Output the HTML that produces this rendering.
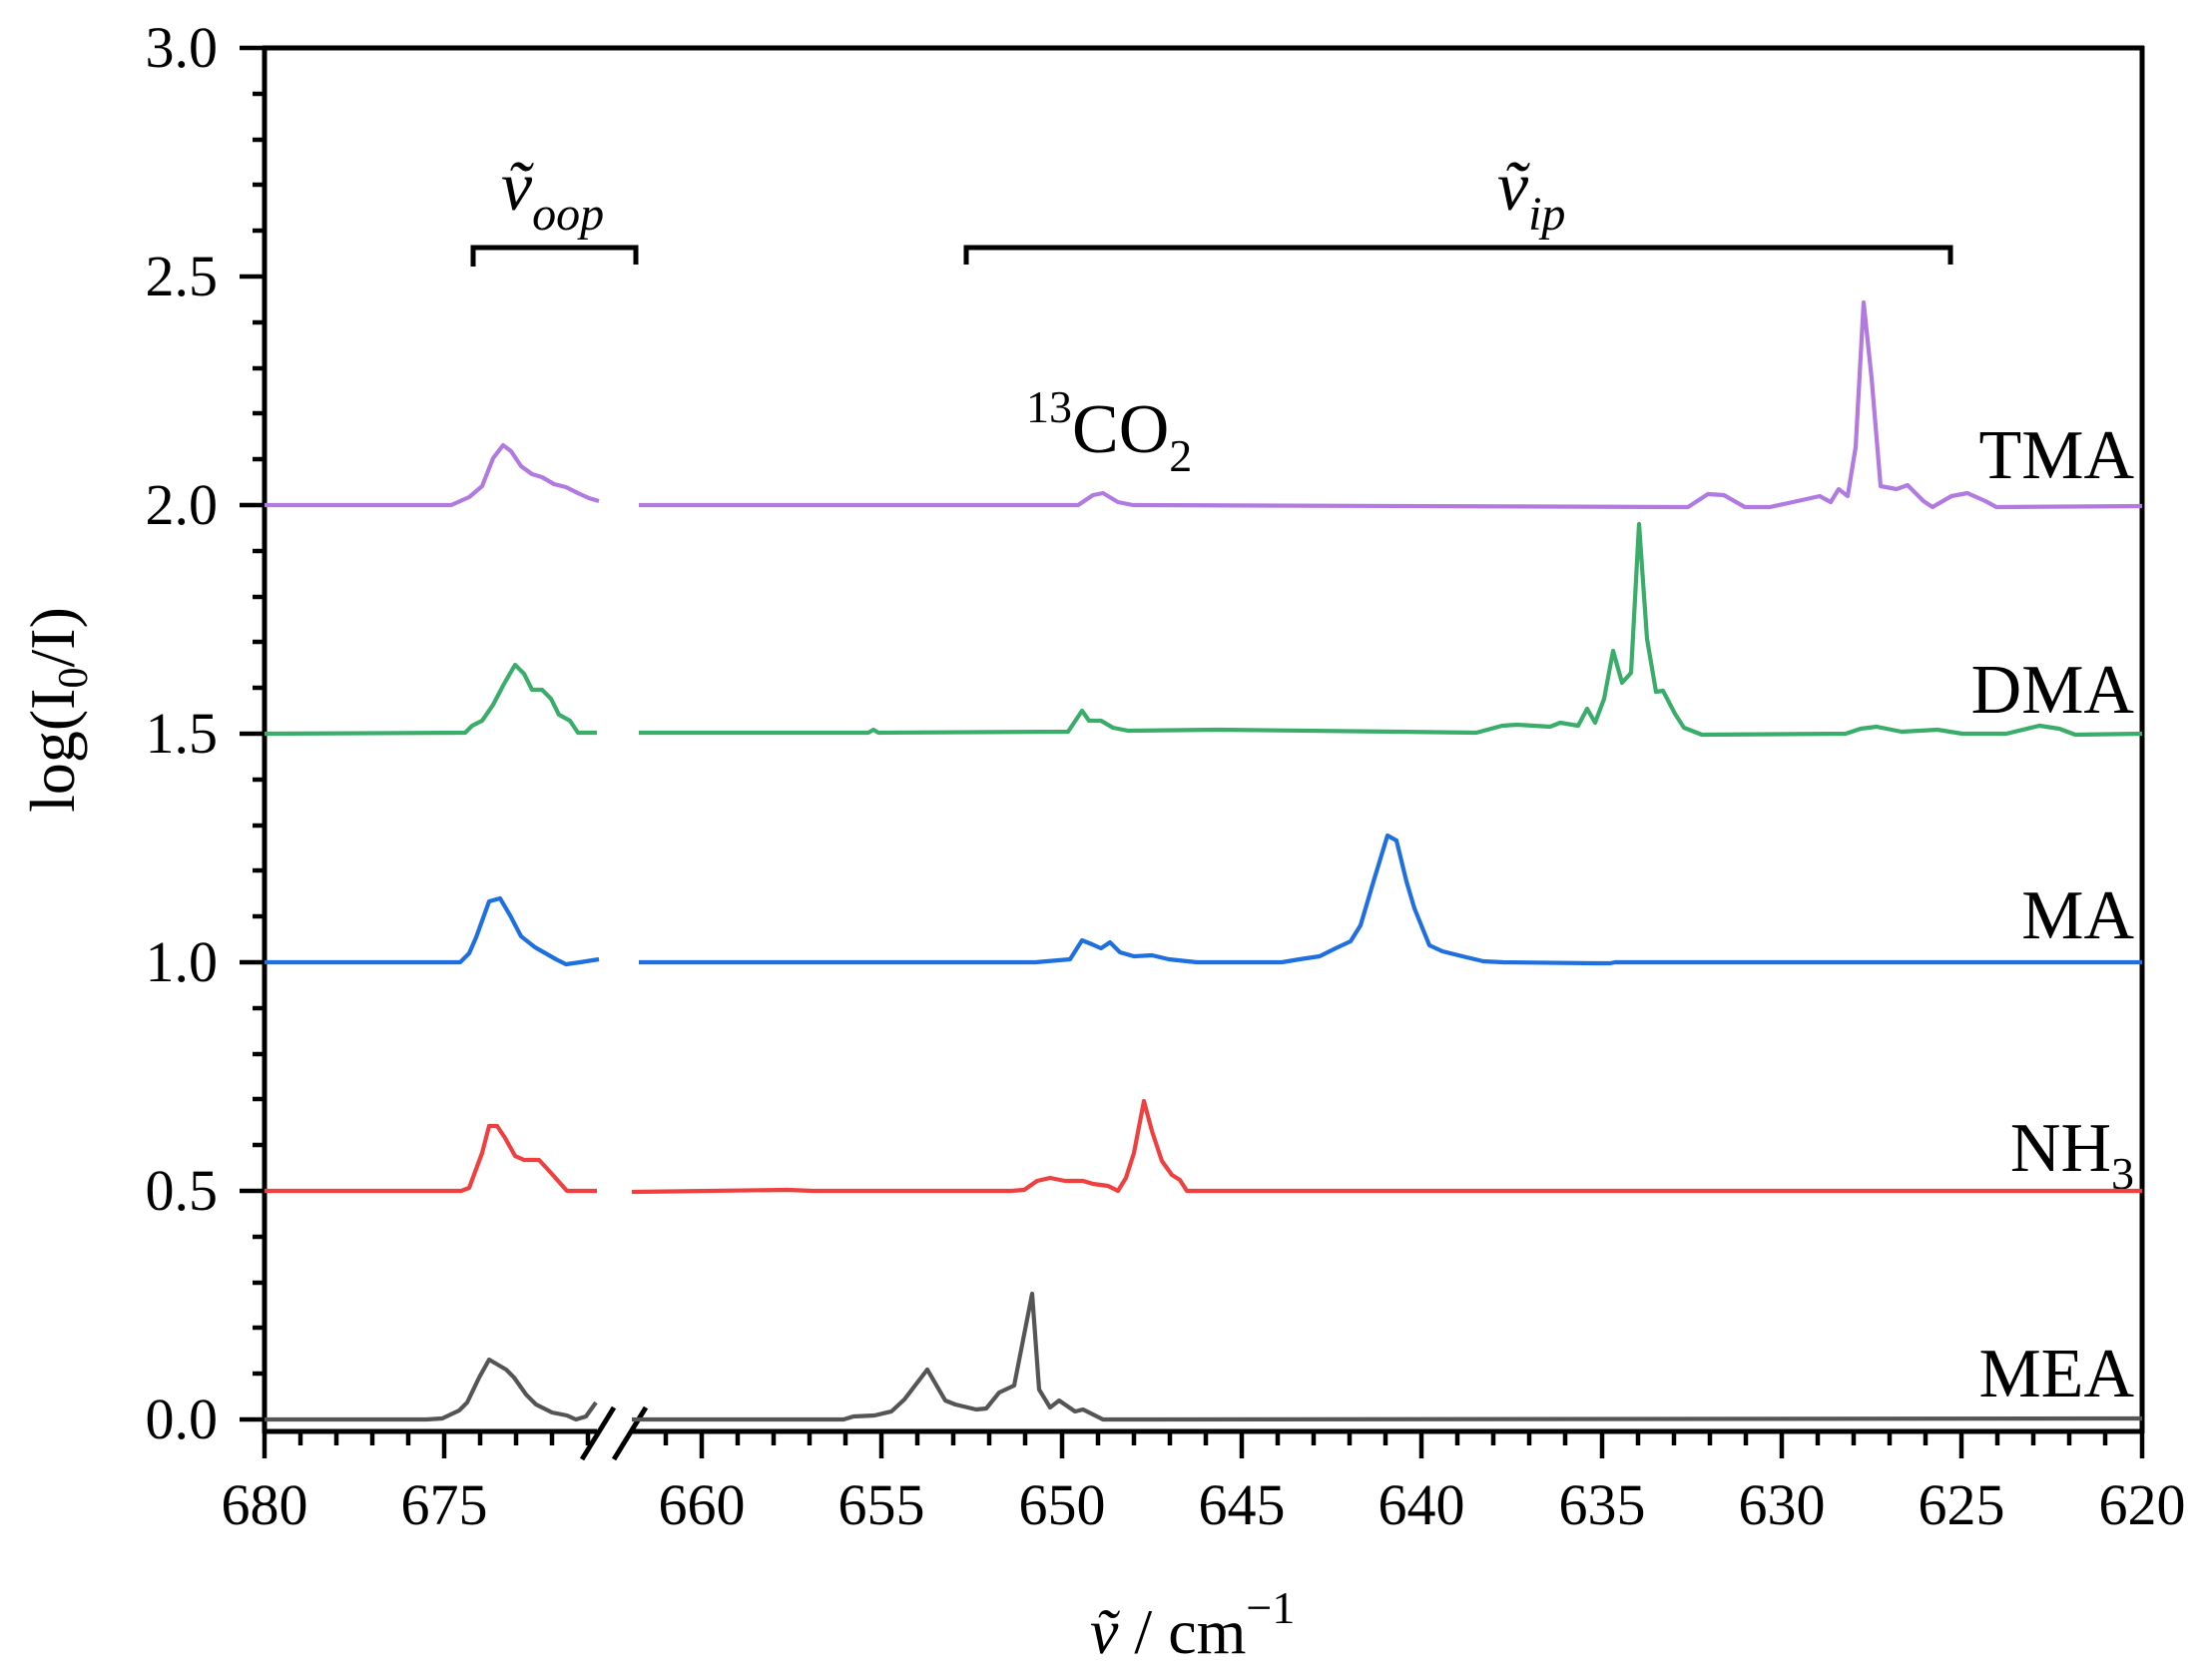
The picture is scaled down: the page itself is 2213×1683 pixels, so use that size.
<!DOCTYPE html>
<html><head><meta charset="utf-8"><style>html,body{margin:0;padding:0;background:#fff}svg{display:block}</style></head>
<body>
<svg width="2213" height="1683" viewBox="0 0 2213 1683" xmlns="http://www.w3.org/2000/svg" font-family="'Liberation Serif', serif">
<rect width="2213" height="1683" fill="#fff"/>
<g stroke="#000" stroke-width="5" fill="none">
<line x1="265" y1="46" x2="265" y2="1436"/>
<line x1="263" y1="48" x2="2148" y2="48"/>
<line x1="2146" y1="46" x2="2146" y2="1436"/>
<line x1="263" y1="1434" x2="598" y2="1434"/>
<line x1="633" y1="1434" x2="2148" y2="1434"/>
<line x1="583" y1="1462" x2="615" y2="1410"/>
<line x1="615" y1="1462" x2="647" y2="1410"/>
</g>
<g stroke="#000" stroke-width="4.5">
<line x1="265" y1="1434" x2="265" y2="1461"/><line x1="301" y1="1434" x2="301" y2="1448"/><line x1="337" y1="1434" x2="337" y2="1448"/><line x1="373" y1="1434" x2="373" y2="1448"/><line x1="409" y1="1434" x2="409" y2="1448"/><line x1="445" y1="1434" x2="445" y2="1461"/><line x1="481" y1="1434" x2="481" y2="1448"/><line x1="517" y1="1434" x2="517" y2="1448"/><line x1="553" y1="1434" x2="553" y2="1448"/><line x1="589" y1="1434" x2="589" y2="1448"/>
<line x1="667" y1="1434" x2="667" y2="1448"/>
<line x1="703" y1="1434" x2="703" y2="1461"/><line x1="739" y1="1434" x2="739" y2="1448"/><line x1="775" y1="1434" x2="775" y2="1448"/><line x1="811" y1="1434" x2="811" y2="1448"/><line x1="847" y1="1434" x2="847" y2="1448"/>
<line x1="883" y1="1434" x2="883" y2="1461"/><line x1="919" y1="1434" x2="919" y2="1448"/><line x1="955" y1="1434" x2="955" y2="1448"/><line x1="991" y1="1434" x2="991" y2="1448"/><line x1="1027" y1="1434" x2="1027" y2="1448"/>
<line x1="1064" y1="1434" x2="1064" y2="1461"/><line x1="1100" y1="1434" x2="1100" y2="1448"/><line x1="1136" y1="1434" x2="1136" y2="1448"/><line x1="1172" y1="1434" x2="1172" y2="1448"/><line x1="1208" y1="1434" x2="1208" y2="1448"/>
<line x1="1244" y1="1434" x2="1244" y2="1461"/><line x1="1280" y1="1434" x2="1280" y2="1448"/><line x1="1316" y1="1434" x2="1316" y2="1448"/><line x1="1352" y1="1434" x2="1352" y2="1448"/><line x1="1388" y1="1434" x2="1388" y2="1448"/>
<line x1="1424" y1="1434" x2="1424" y2="1461"/><line x1="1460" y1="1434" x2="1460" y2="1448"/><line x1="1496" y1="1434" x2="1496" y2="1448"/><line x1="1532" y1="1434" x2="1532" y2="1448"/><line x1="1568" y1="1434" x2="1568" y2="1448"/>
<line x1="1605" y1="1434" x2="1605" y2="1461"/><line x1="1641" y1="1434" x2="1641" y2="1448"/><line x1="1677" y1="1434" x2="1677" y2="1448"/><line x1="1713" y1="1434" x2="1713" y2="1448"/><line x1="1749" y1="1434" x2="1749" y2="1448"/>
<line x1="1785" y1="1434" x2="1785" y2="1461"/><line x1="1821" y1="1434" x2="1821" y2="1448"/><line x1="1857" y1="1434" x2="1857" y2="1448"/><line x1="1893" y1="1434" x2="1893" y2="1448"/><line x1="1929" y1="1434" x2="1929" y2="1448"/>
<line x1="1965" y1="1434" x2="1965" y2="1461"/><line x1="2001" y1="1434" x2="2001" y2="1448"/><line x1="2037" y1="1434" x2="2037" y2="1448"/><line x1="2073" y1="1434" x2="2073" y2="1448"/><line x1="2109" y1="1434" x2="2109" y2="1448"/>
<line x1="2146" y1="1434" x2="2146" y2="1461"/>
<line x1="240" y1="1422" x2="265" y2="1422"/><line x1="253" y1="1376" x2="265" y2="1376"/><line x1="253" y1="1330" x2="265" y2="1330"/><line x1="253" y1="1285" x2="265" y2="1285"/><line x1="253" y1="1239" x2="265" y2="1239"/>
<line x1="240" y1="1193" x2="265" y2="1193"/><line x1="253" y1="1147" x2="265" y2="1147"/><line x1="253" y1="1101" x2="265" y2="1101"/><line x1="253" y1="1056" x2="265" y2="1056"/><line x1="253" y1="1010" x2="265" y2="1010"/>
<line x1="240" y1="964" x2="265" y2="964"/><line x1="253" y1="918" x2="265" y2="918"/><line x1="253" y1="872" x2="265" y2="872"/><line x1="253" y1="827" x2="265" y2="827"/><line x1="253" y1="781" x2="265" y2="781"/>
<line x1="240" y1="735" x2="265" y2="735"/><line x1="253" y1="689" x2="265" y2="689"/><line x1="253" y1="643" x2="265" y2="643"/><line x1="253" y1="598" x2="265" y2="598"/><line x1="253" y1="552" x2="265" y2="552"/>
<line x1="240" y1="506" x2="265" y2="506"/><line x1="253" y1="460" x2="265" y2="460"/><line x1="253" y1="414" x2="265" y2="414"/><line x1="253" y1="369" x2="265" y2="369"/><line x1="253" y1="323" x2="265" y2="323"/>
<line x1="240" y1="277" x2="265" y2="277"/><line x1="253" y1="231" x2="265" y2="231"/><line x1="253" y1="185" x2="265" y2="185"/><line x1="253" y1="140" x2="265" y2="140"/><line x1="253" y1="94" x2="265" y2="94"/>
<line x1="240" y1="48" x2="265" y2="48"/>
</g>
<g font-size="58" text-anchor="middle" fill="#000">
<text x="265" y="1527">680</text><text x="445" y="1527">675</text>
<text x="703" y="1527">660</text><text x="883" y="1527">655</text><text x="1064" y="1527">650</text><text x="1244" y="1527">645</text><text x="1424" y="1527">640</text><text x="1605" y="1527">635</text><text x="1785" y="1527">630</text><text x="1965" y="1527">625</text><text x="2146" y="1527">620</text>
</g>
<g font-size="58" text-anchor="end" fill="#000">
<text x="218" y="1441">0.0</text><text x="218" y="1212">0.5</text><text x="218" y="983">1.0</text><text x="218" y="754">1.5</text><text x="218" y="525">2.0</text><text x="218" y="296">2.5</text><text x="218" y="67">3.0</text>
</g>
<text transform="translate(74,711) rotate(-90)" font-size="64" text-anchor="middle">log(I<tspan font-size="42" dy="13">0</tspan><tspan dy="-13">/I)</tspan></text>
<text x="1092" y="1656" font-size="64"><tspan font-style="italic">ṽ</tspan> / cm<tspan font-size="46" dy="-30">−1</tspan></text>
<g stroke="#000" stroke-width="5" fill="none">
<polyline points="474,267 474,248 637,248 637,265"/>
<polyline points="968,265 968,248 1954,248 1954,265"/>
</g>
<text x="502" y="210" font-size="70" font-style="italic">ṽ<tspan font-size="48" dy="20">oop</tspan></text>
<text x="1500" y="210" font-size="70" font-style="italic">ṽ<tspan font-size="48" dy="20">ip</tspan></text>
<text x="1028" y="453" font-size="70"><tspan font-size="46" dy="-30">13</tspan><tspan dy="30">CO</tspan><tspan font-size="46" dy="19">2</tspan></text>
<g font-size="70" text-anchor="end">
<text x="2138" y="479">TMA</text>
<text x="2138" y="714">DMA</text>
<text x="2138" y="940">MA</text>
<text x="2138" y="1173">NH<tspan font-size="46" dy="18">3</tspan></text>
<text x="2138" y="1399">MEA</text>
</g>
<g fill="none" stroke-width="4.2" stroke-linejoin="round">
<g stroke="#555555">
<polyline points="265,1422 427,1422 443,1421 460,1413 468,1405 480,1380 490,1362 507,1372 515,1380 527,1397 537,1407 553,1415 568,1418 577,1422 587,1419 597,1405"/>
<polyline points="633,1422 753,1422 845,1422 855,1419 876,1418 893,1414 906,1402 929,1372 947,1403 957,1407 978,1412 988,1411 1001,1395 1016,1388 1034,1296 1041,1392 1052,1410 1061,1403 1077,1414 1085,1412 1105,1422 2146,1421"/>
</g>
<g stroke="#ef3f3f">
<polyline points="265,1193 462,1193 470,1190 483,1155 490,1128 498,1128 506,1140 516,1158 525,1162 540,1162 552,1175 568,1193 598,1193"/>
<polyline points="633,1194 789,1192 814,1193 1013,1193 1026,1192 1039,1183 1052,1180 1067,1183 1085,1183 1095,1186 1110,1188 1120,1193 1128,1180 1136,1155 1146,1103 1154,1133 1164,1163 1174,1177 1182,1182 1189,1193 2146,1193"/>
</g>
<g stroke="#1e6fe0">
<polyline points="265,964 461,964 470,955 477,939 490,903 501,900 511,917 522,938 536,949 557,961 567,966 581,964 600,961"/>
<polyline points="640,964 1037,964 1072,961 1084,942 1094,946 1103,950 1112,944 1122,954 1136,958 1154,957 1171,961 1199,964 1284,964 1302,961 1322,958 1338,950 1353,943 1363,927 1376,883 1390,837 1399,842 1409,883 1417,910 1432,947 1445,953 1465,958 1486,963 1506,964 1598,965 1613,965 1618,964 2146,964"/>
</g>
<g stroke="#3aad6a">
<polyline points="265,735 466,734 473,727 483,722 494,706 505,685 516,666 525,675 533,691 543,691 552,700 560,716 571,722 579,734 598,734"/>
<polyline points="640,734 870,734 875,731 880,734 1070,733 1084,712 1091,722 1103,722 1115,729 1130,732 1220,731 1400,733 1479,734 1505,727 1520,726 1553,728 1563,724 1581,727 1590,710 1598,724 1607,700 1616,652 1625,684 1634,674 1642,525 1650,640 1659,693 1666,692 1678,715 1687,729 1705,736 1849,735 1864,730 1880,728 1905,733 1941,731 1966,735 2010,735 2043,727 2063,730 2079,736 2146,735"/>
</g>
<g stroke="#b07ae0">
<polyline points="265,506 452,506 470,498 483,487 494,459 504,446 512,452 522,467 533,475 543,478 555,485 567,488 579,494 590,499 600,502"/>
<polyline points="640,506 1080,506 1095,496 1105,494 1120,503 1135,506 1691,508 1711,495 1727,496 1748,508 1773,508 1796,503 1823,497 1834,503 1842,490 1851,497 1859,448 1867,303 1875,379 1884,487 1900,490 1911,486 1927,502 1936,508 1955,497 1971,494 1989,502 2000,508 2146,507"/>
</g>
</g>
</svg>
</body></html>
